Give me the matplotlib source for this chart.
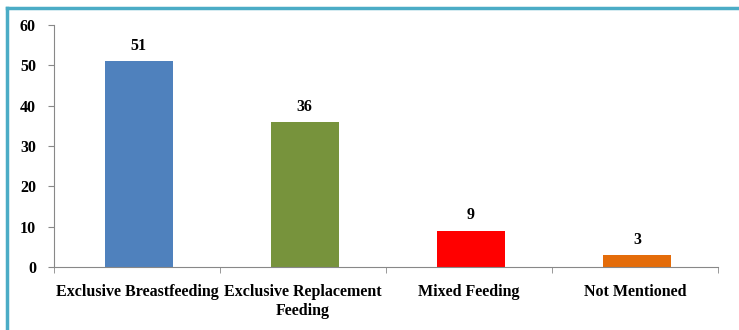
import matplotlib.pyplot as plt
from matplotlib.lines import Line2D

categories = ['Exclusive Breastfeeding', 'Exclusive Replacement\nFeeding',
              'Mixed Feeding', 'Not Mentioned']
values = [51, 36, 9, 3]
colors = ['#4F81BD', '#77933C', '#FF0000', '#E46C0A']

plt.rcParams['font.family'] = ['Liberation Serif', 'DejaVu Serif']
plt.rcParams['font.weight'] = 'bold'

fig = plt.figure(figsize=(7.39, 3.3), dpi=100)
ax = fig.add_axes([0.073, 0.191, 0.899, 0.733])

x = range(len(categories))
bars = ax.bar([i + 0.01 for i in x], values, width=0.41, color=colors)
for b, v in zip(bars, values):
    ax.text(b.get_x() + b.get_width() / 2, v + 1.8, str(v), ha='center', va='bottom',
            fontsize=11.5, fontweight='bold')

ax.set_xlim(-0.5, len(categories) - 0.5)
ax.set_ylim(0, 60)
ax.set_yticks(range(0, 61, 10))
ax.set_xticks(x)
ax.set_xticklabels(categories, fontsize=11.5, fontweight='bold', linespacing=1.3)
ax.set_xticks([i - 0.5 for i in range(len(categories) + 1)], minor=True)
ax.tick_params(axis='x', which='major', length=0, pad=12)
ax.tick_params(axis='x', which='minor', length=4, color='#888888')
ax.tick_params(axis='y', length=4, color='#888888', labelsize=11.5, pad=9)
for lbl in ax.get_yticklabels():
    lbl.set_fontweight('bold')

for side in ['top', 'right']:
    ax.spines[side].set_visible(False)
for side in ['left', 'bottom']:
    ax.spines[side].set_color('#888888')

# teal frame along top and left edge
frame = '#4BACC6'
fig.add_artist(Line2D([7 / 739, 1], [1 - 8 / 330, 1 - 8 / 330], color=frame, lw=2.5,
                      transform=fig.transFigure))
fig.add_artist(Line2D([7 / 739, 7 / 739], [0, 1 - 8 / 330], color=frame, lw=2.5,
                      transform=fig.transFigure))

fig.savefig('out.png', dpi=100)
